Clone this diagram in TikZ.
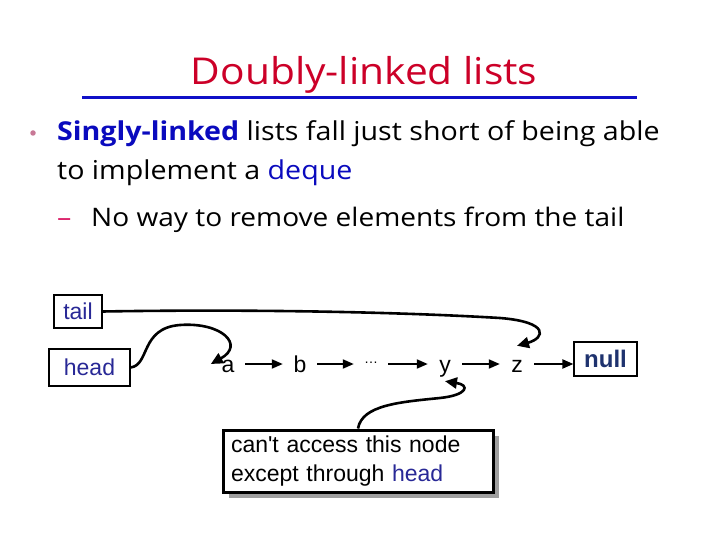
\documentclass[tikz,border=0pt]{standalone}
\usepackage{fontspec}
\setmainfont{Open Sans}[FakeStretch=1.1]
\newfontfamily\arialf{Liberation Sans}
\usetikzlibrary{arrows.meta,shadows}
\definecolor{titlered}{RGB}{204,0,40}
\definecolor{rulblue}{RGB}{16,16,200}
\definecolor{kwblue}{RGB}{10,10,190}
\definecolor{boxblue}{RGB}{40,40,150}
\definecolor{nullblue}{RGB}{30,50,110}
\definecolor{dashpink}{RGB}{220,40,110}
\definecolor{bulpink}{RGB}{200,120,150}
\begin{document}
\begin{tikzpicture}[x=1pt,y=-1pt,
  ptrbox/.style={draw, line width=1.2pt, text=boxblue, inner sep=0pt,
    font=\arialf\fontsize{23}{26}\selectfont},
  item/.style={font=\arialf\fontsize{23}{26}\selectfont, minimum width=34pt,
    inner sep=0pt, text height=16pt, text depth=0pt, anchor=base},
  link/.style={line width=2pt, -{Triangle[length=11pt,width=9pt]}},
  curvy/.style={line width=2.6pt, -{Triangle[length=12pt,width=11pt]}},
  bodytext/.style={anchor=base west, inner sep=0pt, font=\fontsize{26}{30}\selectfont},
  callout/.style={draw, line width=3pt, fill=white, align=left, text width=254pt,
    inner xsep=8pt, minimum height=62pt, font=\arialf\fontsize{23}{29}\selectfont,
    drop shadow={shadow xshift=6pt, shadow yshift=-6pt, fill=gray!75, opacity=1}}
]
\useasboundingbox (0,0) rectangle (720,540);
\fill[white] (0,0) rectangle (720,540);
% title
\node[anchor=base, inner sep=0pt, text=titlered, font=\fontsize{37}{40}\selectfont] (title) at (364,85) {Doubly-linked lists};
\draw[rulblue, line width=3pt] (82,98) -- (637,98);
% bullets
\node[circle, fill=bulpink, inner sep=0pt, minimum size=5.5pt] (bul) at (33,133) {};
\node[bodytext] (l1) at (57,141) {\textcolor{kwblue}{\bfseries Singly-linked} lists fall just short of being able};
\node[bodytext] (l2) at (57,180) {to implement a \textcolor{kwblue}{deque}};
\node[bodytext, text=dashpink] (dash) at (57,226) {–};
\node[bodytext, font=\fontsize{25.5}{30}\selectfont] (l3) at (91,226) {No way to remove elements from the tail};
% pointer boxes
\node[ptrbox, minimum width=48pt, minimum height=33pt] (tail) at (78,311.5) {tail};
\node[ptrbox, minimum width=81pt, minimum height=37pt] (head) at (89.5,367.5) {head};
% list items
\node[item] (a) at (228,372) {a};
\node[item] (b) at (300,372) {b};
\node[item] (dots) at (371,372) {\raisebox{9pt}{\fontsize{14}{14}\selectfont\dots}};
\node[item] (y) at (445,372) {y};
\node[item] (z) at (517,372) {z};
\node[draw, line width=1.2pt, minimum width=63pt, minimum height=34pt, inner sep=0pt,
  text=nullblue, font=\arialf\bfseries\fontsize{24}{26}\selectfont] (null) at (605.5,359) {null};
\draw[link] (a.east) -- (b.west);
\draw[link] (b.east) -- (dots.west);
\draw[link] (dots.east) -- (y.west);
\draw[link] (y.east) -- (z.west);
\draw[link] (z.east) -- (z.east -| null.west);
% curved pointers
\draw[curvy] (head.east) .. controls (150,365) and (140,328) .. (180,325)
  .. controls (222,322) and (245,345) .. (a.west);
\draw[curvy] (tail.east) .. controls (250,309) and (400,312) .. (500,318)
  .. controls (550,322) and (545,338) .. ([yshift=10pt]z.north);
% callout
\node[callout] (note) at (358,461) {can't access this node\\except through \textcolor{boxblue}{head}};
\draw[curvy] (note.north) .. controls (362,405) and (400,402) .. (440,398)
  .. controls (468,395) and (470,385) .. ([yshift=-9pt]y.south);
\end{tikzpicture}
\end{document}
